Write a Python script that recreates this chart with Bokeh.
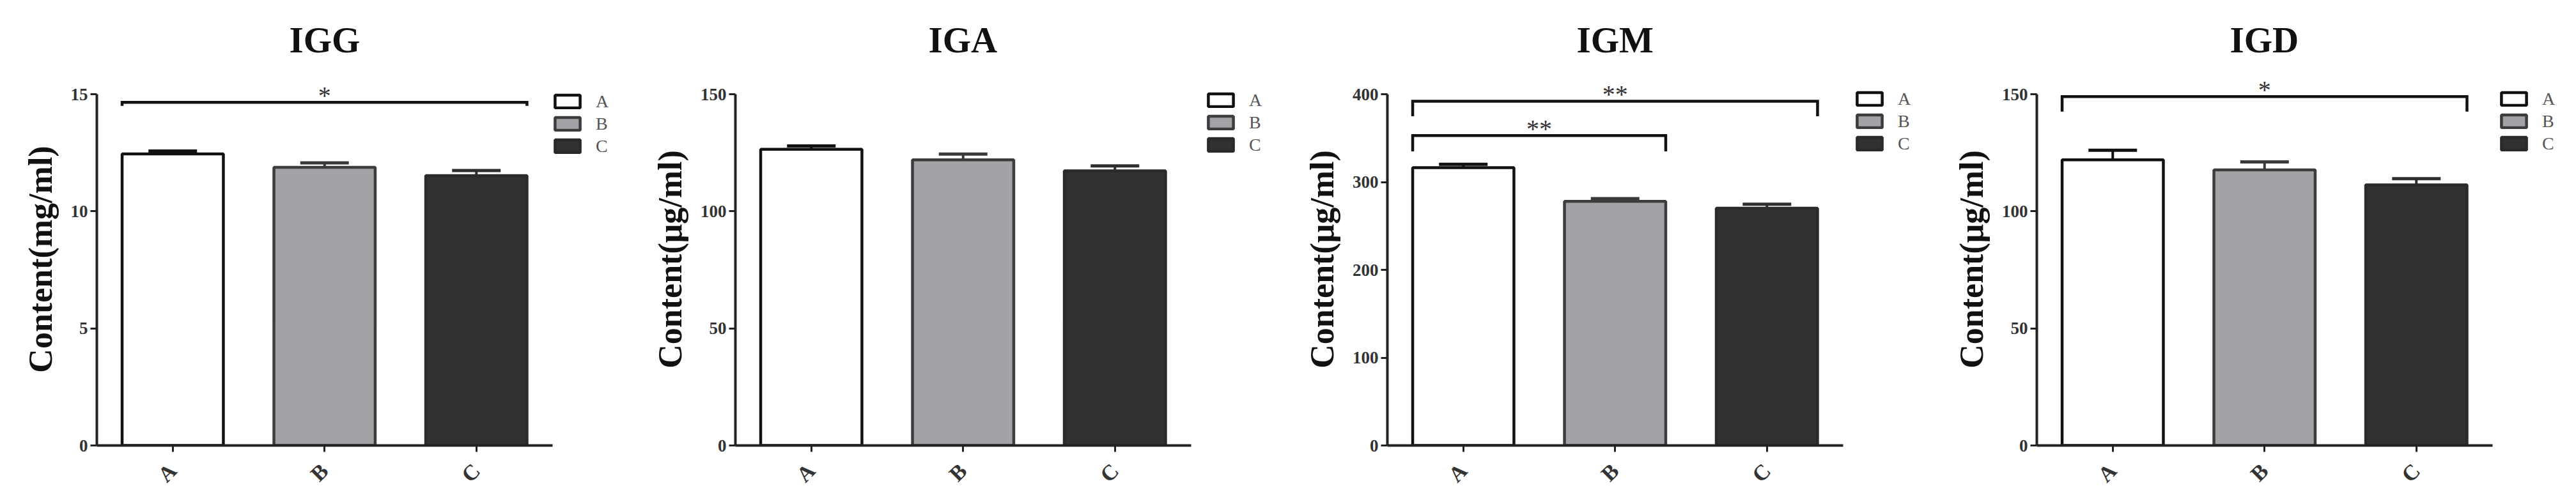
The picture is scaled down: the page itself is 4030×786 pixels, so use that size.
import math
from bokeh.plotting import figure
from bokeh.layouts import row
from bokeh.models import (Range1d, FixedTicker, Legend, LegendItem, Label,
                          ColumnDataSource, Whisker, TeeHead)
from bokeh.embed import file_html
from bokeh.resources import INLINE

# ---------------- data ----------------
groups = ["A", "B", "C"]
titles = ["IGG", "IGA", "IGM", "IGD"]
y_labels = ["Content(mg/ml)", "Content(μg/ml)", "Content(μg/ml)", "Content(μg/ml)"]
y_max = [15, 150, 400, 150]
y_ticks = [[0, 5, 10, 15], [0, 50, 100, 150], [0, 100, 200, 300, 400], [0, 50, 100, 150]]

igg_mean = [12.45, 11.88, 11.52]
igg_sem = [0.12, 0.19, 0.22]
iga_mean = [126.5, 122.0, 117.3]
iga_sem = [1.4, 2.4, 2.1]
igm_mean = [316.4, 278.0, 270.2]
igm_sem = [3.7, 3.1, 4.6]
igd_mean = [122.0, 117.7, 111.3]
igd_sem = [4.1, 3.4, 2.6]

# significance brackets: (from group, to group, bracket level, end level, mark)
igg_sig = [("A", "C", 14.65, 14.5, "*")]
iga_sig = []
igm_sig = [("A", "C", 392.0, 375.0, "**"), ("A", "B", 353.0, 335.0, "**")]
igd_sig = [("A", "C", 149.0, 142.6, "*")]

means = [igg_mean, iga_mean, igm_mean, igd_mean]
sems = [igg_sem, iga_sem, igm_sem, igd_sem]
sigs = [igg_sig, iga_sig, igm_sig, igd_sig]

# ---------------- style ----------------
fill_colors = ["#ffffff", "#a3a3a7", "#313131"]
line_colors = ["#111111", "#3c3c3c", "#2a2a2a"]
err_colors = ["#111111", "#3a3a3a", "#2e2e2e"]
SERIF = "Liberation Serif"

BAR_W = 0.667
PX_PER_CAT = 237.5
FRAME_W = 830
PX_PER_Y = 550          # pixels between 0 and axis max
PAD = 1.06
FRAME_H = round(PX_PER_Y * PAD)
mbl = [151, 140, 150, 150]
mbr = [29, 40, 36, 4]
mbt = [114, 110, 110, 110]
mbb = [85, 89, 89, 89]
leg_x = [712, 735, 730, 722]
leg_y = [452, 454, 456, 456]
title_em = [1.945, 1.889, 2.111, 1.889]
TITLE_PX = 57


def make_panel(i):
    xs = [groups.index(g) + 1 for g in groups]
    top = y_max[i]
    p = figure(frame_width=FRAME_W, frame_height=FRAME_H,
               min_border_left=mbl[i], min_border_right=mbr[i],
               min_border_top=mbt[i], min_border_bottom=mbb[i],
               x_range=Range1d(0.5, 0.5 + FRAME_W / PX_PER_CAT),
               y_range=Range1d(0, top * PAD),
               output_backend="svg", toolbar_location=None,
               title=titles[i])
    p.title.text_font = SERIF
    p.title.text_font_size = f"{TITLE_PX}px"
    p.title.text_font_style = "bold"
    p.title.text_color = "#111111"
    p.title.align = "left"
    p.title.offset = round(1.5 * PX_PER_CAT - title_em[i] * TITLE_PX / 2)
    p.title.standoff = 41
    p.outline_line_color = None
    p.xgrid.visible = False
    p.ygrid.visible = False
    p.background_fill_color = "white"
    p.border_fill_color = "white"

    src = ColumnDataSource(dict(x=xs, top=means[i], fill=fill_colors, line=line_colors,
                                upper=[m + s for m, s in zip(means[i], sems[i])],
                                errc=err_colors))
    r = p.vbar(x="x", top="top", width=BAR_W, source=src, fill_color="fill",
               line_color="line", line_width=4.5)

    wk = Whisker(base="x", lower="top", upper="upper", source=src,
                 line_color="errc", line_width=4,
                 upper_head=TeeHead(size=76, line_width=5, line_color="errc"),
                 lower_head=None, level="overlay")
    p.add_layout(wk)

    for (g0, g1, yb, ye, mark) in sigs[i]:
        x0 = groups.index(g0) + 1 - BAR_W / 2
        x1 = groups.index(g1) + 1 + BAR_W / 2
        p.line(x=[x0, x0, x1, x1], y=[ye, yb, yb, ye], line_color="#111111",
               line_width=4.5, line_join="miter")
        p.add_layout(Label(x=(x0 + x1) / 2, y=yb, text=mark, text_align="center",
                           text_baseline="alphabetic", y_offset=11,
                           text_font=SERIF, text_font_size="40px",
                           text_color="#333333"))

    # axes
    ya = p.yaxis[0]
    ya.bounds = (0, top)
    ya.ticker = FixedTicker(ticks=y_ticks[i])
    ya.minor_tick_line_color = None
    ya.axis_line_width = 4
    ya.axis_line_color = "#222222"
    ya.major_tick_out = 10
    ya.major_tick_in = 0
    ya.major_tick_line_width = 3
    ya.major_tick_line_color = "#222222"
    ya.major_label_text_font = SERIF
    ya.major_label_text_font_size = "27px"
    ya.major_label_text_font_style = "bold"
    ya.major_label_text_color = "#333333"
    ya.major_label_standoff = 4
    ya.axis_label = y_labels[i]
    ya.axis_label_text_font = SERIF
    ya.axis_label_text_font_size = "52px"
    ya.axis_label_text_font_style = "bold"
    ya.axis_label_text_color = "#111111"
    ya.axis_label_standoff = 16

    xa = p.xaxis[0]
    xa.bounds = (0.5, 3.5)
    xa.ticker = FixedTicker(ticks=xs)
    xa.major_label_overrides = {x: g for x, g in zip(xs, groups)}
    xa.minor_tick_line_color = None
    xa.axis_line_width = 4
    xa.axis_line_color = "#222222"
    xa.major_tick_out = 10
    xa.major_tick_in = 0
    xa.major_tick_line_width = 3
    xa.major_tick_line_color = "#222222"
    xa.major_label_orientation = math.pi / 4
    xa.major_label_text_font = SERIF
    xa.major_label_text_font_size = "34px"
    xa.major_label_text_font_style = "bold"
    xa.major_label_text_color = "#333333"
    xa.major_label_standoff = 24

    items = [LegendItem(label=g, renderers=[r], index=k) for k, g in enumerate(groups)]
    leg = Legend(items=items, location=(leg_x[i], leg_y[i]), glyph_width=49,
                 glyph_height=25, label_height=33, spacing=2, padding=0, margin=0,
                 label_text_font=SERIF, label_text_font_size="28px",
                 label_text_color="#555555", label_standoff=20,
                 border_line_alpha=0, background_fill_alpha=0)
    p.add_layout(leg)
    return p


panels = [make_panel(i) for i in range(4)]
layout = row(*panels)
open("out.html", "w").write(file_html(layout, INLINE))
